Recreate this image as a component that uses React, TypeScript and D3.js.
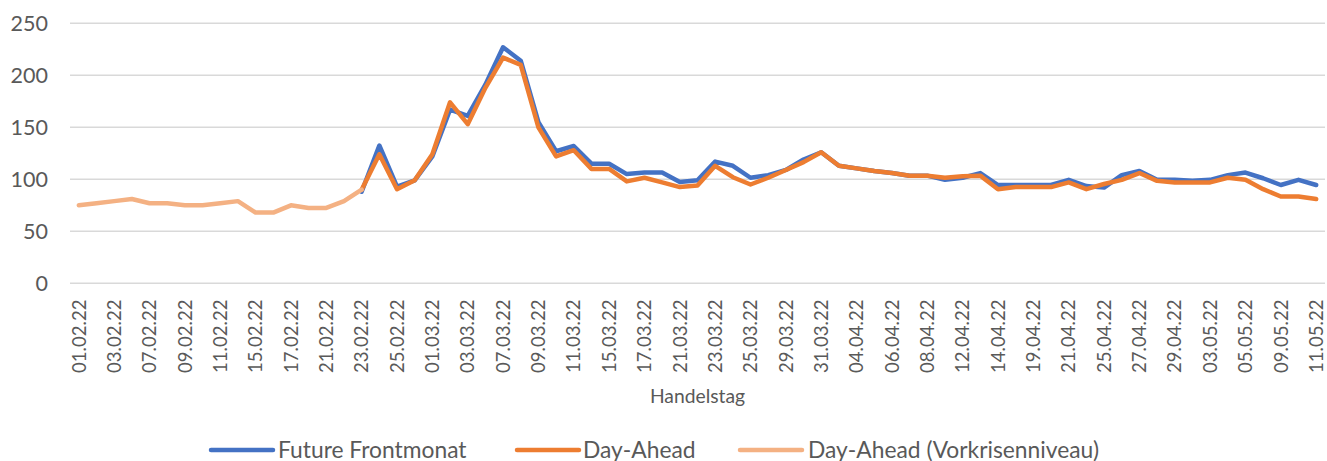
import React from "react";
import * as d3 from "d3";

const dates: string[] = [
  "01.02.22","02.02.22","03.02.22","04.02.22","07.02.22","08.02.22","09.02.22","10.02.22","11.02.22","14.02.22",
  "15.02.22","16.02.22","17.02.22","18.02.22","21.02.22","22.02.22","23.02.22","24.02.22","25.02.22","28.02.22",
  "01.03.22","02.03.22","03.03.22","04.03.22","07.03.22","08.03.22","09.03.22","10.03.22","11.03.22","14.03.22",
  "15.03.22","16.03.22","17.03.22","18.03.22","21.03.22","22.03.22","23.03.22","24.03.22","25.03.22","28.03.22",
  "29.03.22","30.03.22","31.03.22","01.04.22","04.04.22","05.04.22","06.04.22","07.04.22","08.04.22","11.04.22",
  "12.04.22","13.04.22","14.04.22","18.04.22","19.04.22","20.04.22","21.04.22","22.04.22","25.04.22","26.04.22",
  "27.04.22","28.04.22","29.04.22","02.05.22","03.05.22","04.05.22","05.05.22","06.05.22","09.05.22","10.05.22",
  "11.05.22",
];

const N = null;

const futureFrontmonat: (number | null)[] = [
  N,N,N,N,N,N,N,N,N,N,N,N,N,N,N,N,
  88,132.5,93,99,122,167,161,191,227,214,
  155,127,132,115,115,105,106.5,106.5,97.5,99,
  117,113,101.5,104,109,119,126,113,110.5,108,
  106,103.5,103.5,99.5,101.5,106,94.5,94.5,94.5,94.5,
  99.5,93.5,92,104,108,99.5,99.5,98.5,99.5,104,
  106.5,101,94.5,99.5,94.5,
];

const dayAhead: (number | null)[] = [
  N,N,N,N,N,N,N,N,N,N,N,N,N,N,N,N,
  90,124,90.5,99,124,174,153,188,217,210,
  150,122,128,110,110,98,101.5,97,92.5,94,
  113,102,95,101.5,109,116.5,126,113,110.5,108,
  106,103.5,103.5,101.5,103,103.5,90.5,92.5,92.5,92.5,
  97,90.5,95.5,99.5,106,98.5,97,97,97,101.5,
  99.5,90.5,83.5,83.5,81,
];

const dayAheadVorkrise: (number | null)[] = [
  75,77,79,81,77,77,75,75,77,79,68,68,75,72.5,72.5,79,90,
];

const yTicks: number[] = [0, 50, 100, 150, 200, 250];

const seriesNames: string[] = ["Future Frontmonat", "Day-Ahead", "Day-Ahead (Vorkrisenniveau)"];
const seriesColors: string[] = ["#4472C4", "#ED7D31", "#F4B183"];

const W = 1327;
const H = 461;
const FONT = "Lato, 'Open Sans', sans-serif";

export default function App() {
  const left = 70;
  const right = 1325;
  const top = 23.3;
  const bottom = 283.3;

  const x = d3.scalePoint<string>().domain(dates).range([left, right]).padding(0.5);
  const y = d3.scaleLinear().domain([0, 250]).range([bottom, top]);

  const line = d3
    .line<number | null>()
    .defined((d) => d !== null)
    .x((_, i) => x(dates[i]) as number)
    .y((d) => y(d as number));

  const allSeries = [futureFrontmonat, dayAhead, dayAheadVorkrise];

  const legendItems = [
    { lx: 211, tx: 278 },
    { lx: 517, tx: 583 },
    { lx: 740, tx: 808 },
  ];

  return (
    <svg width={W} height={H} style={{ position: "absolute", left: 0, top: 0, background: "#fff" }}>
      <rect x={0} y={0} width={W} height={H} fill="#fff" />
      {yTicks.map((t) => (
        <g key={t}>
          <line x1={left} x2={right} y1={y(t)} y2={y(t)} stroke="#D9D9D9" strokeWidth={1.5} />
          <text x={48} y={y(t)} dy="0.36em" textAnchor="end" fontFamily={FONT} fontSize={21.5} fill="#595959">
            {t}
          </text>
        </g>
      ))}
      {dates.map((d, i) =>
        i % 2 === 0 ? (
          <text
            key={d}
            transform={`translate(${x(d)},299.5) rotate(-90)`}
            textAnchor="end"
            dy="0.36em"
            fontFamily={FONT}
            fontSize={18.6}
            fill="#595959"
          >
            {d}
          </text>
        ) : null
      )}
      <text x={(left + right) / 2} y={403} textAnchor="middle" fontFamily={FONT} fontSize={19.3} fill="#595959">
        Handelstag
      </text>
      {allSeries.map((s, k) => (
        <path
          key={k}
          d={line(s) || ""}
          fill="none"
          stroke={seriesColors[k]}
          strokeWidth={4.5}
          strokeLinejoin="round"
          strokeLinecap="round"
        />
      ))}
      {seriesNames.map((n, k) => (
        <g key={n}>
          <line
            x1={legendItems[k].lx}
            x2={legendItems[k].lx + 62}
            y1={450}
            y2={450}
            stroke={seriesColors[k]}
            strokeWidth={4.5}
            strokeLinecap="round"
          />
          <text x={legendItems[k].tx} y={457.5} fontFamily={FONT} fontSize={22.8} fill="#595959">
            {n}
          </text>
        </g>
      ))}
    </svg>
  );
}
